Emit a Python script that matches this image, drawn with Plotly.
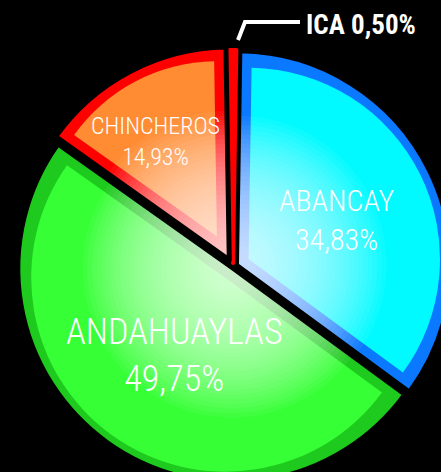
import math
import plotly.graph_objects as go

# ---- data ----
labels = ["ABANCAY", "ANDAHUAYLAS", "CHINCHEROS", "ICA"]
values = [34.83, 49.75, 14.93, 0.50]

# ---- style ----
fill_colors = ["#00FAFF", "#36FF36", "#FF8C32", "#FF0000"]
border_colors = ["#0A78FF", "#1ECA1E", "#FF0000", "#FF0000"]
offsets = [5, 2, 8, 4]           # explode distance (px) per slice
black_w = [1.5, 1.5, 2.5, 0]     # black outline half-width per slice
BORDER = 9.5                     # visible coloured border width
label_pos = [(337, 220), (174, 355), (155, 141)]
label_size = [30, 36, 24]

W, H = 460, 490                  # page slightly larger than the 441x472 window (clipped like the reference)
CX, CY, R = 233, 267, 213
FONT = "Roboto Condensed, Roboto, sans-serif"

total = sum(values)
rotation = 180 * values[-1] / total
half_ang = [math.radians(180 * v / total) for v in values]
TRANSP = "rgba(0,0,0,0)"


def pie(r, offs, colors, line_colors=None, line_widths=None):
    half = r + max(offs)
    return go.Pie(
        labels=labels, values=values, sort=False, direction="clockwise", rotation=rotation,
        pull=[o / r for o in offs],
        marker=dict(colors=colors,
                    line=dict(color=line_colors or TRANSP, width=line_widths or 0)),
        textinfo="none", hoverinfo="skip", showlegend=False,
        domain=dict(x=[(CX - half) / W, (CX + half) / W],
                    y=[(H - CY - half) / H, (H - CY + half) / H]),
    )


fig = go.Figure()

# layer 1: full slices in border colour (ICA gets a red stroke to widen the sliver)
fig.add_trace(pie(R, offsets, border_colors,
                  line_colors=border_colors, line_widths=[0, 0, 0, 4]))

# layer 2: inset fill for each big slice
for i in range(3):
    T = black_w[i] + BORDER
    e = T / math.sin(half_ang[i])
    r2 = R - T - e * math.cos(half_ang[i] / 2)
    offs = [0.0] * len(values)
    offs[i] = offsets[i] + e
    cols = [TRANSP] * len(values)
    cols[i] = fill_colors[i]
    fig.add_trace(pie(r2, offs, cols))

# radial light from the centre
N = 30
for k in range(N):
    rho = R * (0.70 - (0.70 - 0.07) * k / (N - 1))
    cols = ["rgba(255,255,255,0.05)"] * 3 + [TRANSP]
    fig.add_trace(pie(rho, offsets, cols))

# black outline between slices
fig.add_trace(pie(R, offsets, [TRANSP] * len(values),
                  line_colors="black", line_widths=[2 * w for w in black_w]))

# labels inside slices
for i in range(3):
    x, y = label_pos[i]
    txt = "%s<br>%s%%" % (labels[i], ("%.2f" % values[i]).replace(".", ","))
    fig.add_annotation(x=x / W, y=1 - y / H, xref="paper", yref="paper", text=txt,
                       showarrow=False, xanchor="center", yanchor="middle",
                       font=dict(family=FONT, size=label_size[i], color="white", weight=300))

# ICA outside label with connector
fig.add_annotation(
    x=304 / W, y=1 - 25 / H, xref="paper", yref="paper",
    text="<b>%s %s%%</b>" % (labels[3], ("%.2f" % values[3]).replace(".", ",")),
    showarrow=False, xanchor="left", yanchor="middle",
    font=dict(family=FONT, size=27, color="white"),
)
fig.add_shape(
    type="path", xref="paper", yref="paper",
    path="M %f,%f L %f,%f L %f,%f" % (238 / W, 1 - 40 / H, 245 / W, 1 - 22 / H,
                                      300 / W, 1 - 22 / H),
    line=dict(color="white", width=4),
)

fig.update_layout(
    width=W, height=H,
    margin=dict(l=0, r=0, t=0, b=0),
    paper_bgcolor="black", plot_bgcolor="black",
)

fig.write_html(
    "out.html",
    config={"displayModeBar": False},
    post_script="document.body.style.margin='0';document.body.style.overflow='hidden';"
                "document.documentElement.style.overflow='hidden';",
)
